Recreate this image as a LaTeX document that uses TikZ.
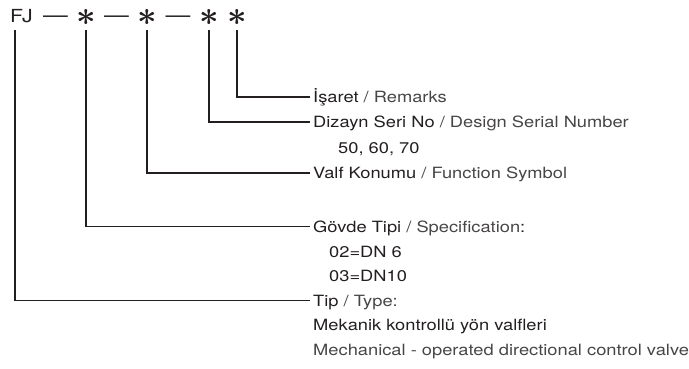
\documentclass[tikz,border=0pt]{standalone}
\usepackage{fontspec}
\setmainfont{TeX Gyre Heros}[FakeStretch=1.18]
\usetikzlibrary{positioning,calc}
\definecolor{ink}{HTML}{231F20}
\definecolor{inklight}{HTML}{474546}
\tikzset{
    % kod satiri
    codepart/.style={inner sep=0pt, anchor=base, text=ink,
                     font=\fontsize{18}{18}\selectfont},
    codedash/.style={inner sep=0pt, anchor=base, text=ink,
                     font=\fontsize{21}{21}\selectfont},
    codestar/.style={inner sep=0pt, anchor=base, text=ink,
                     font=\fontsize{10}{10}\selectfont\boldmath},
    % aciklamalar
    keytext/.style={anchor=west, inner xsep=3pt, inner ysep=0pt,
                    text height=11pt, text depth=0pt, text=ink,
                    font=\fontsize{15.5}{18}\selectfont},
    subtext/.style={keytext, inner xsep=0pt},
    leader/.style={draw=ink, line width=1.3pt}
}
\newcommand{\eng}[1]{\textcolor{inklight}{#1}}
\newcommand{\codeast}{\scalebox{3.4}{$\ast$}}

\begin{document}
\begin{tikzpicture}[x=1pt,y=-1pt]
    \useasboundingbox (0,0) rectangle (689,368);

    \node[codepart, anchor=base west] (fj) at (10,22) {FJ};
    \node[codedash] (d1) at (55.5,22) {\textemdash};
    \node[codestar] (s1) at (86,25) {\codeast};
    \node[codedash] (d2) at (116.5,22) {\textemdash};
    \node[codestar] (s2) at (147,25) {\codeast};
    \node[codedash] (d3) at (178,22) {\textemdash};
    \node[codestar] (s3) at (209,25) {\codeast};
    \node[codestar] (s4) at (237,25) {\codeast};

    \coordinate (foot) at (0,30);
    \coordinate (fjfoot) at (15,30);

    \node[keytext] (isaret) at (310,97) {İşaret \eng{/ Remarks}};
    \node[keytext] (dizayn) at (310,122) {Dizayn Seri No \eng{/ Design Serial Number}};
    \node[subtext] (seri) at (338,147.5) {50, 60, 70};
    \node[keytext] (valf) at (310,173) {Valf Konumu \eng{/ Function Symbol}};
    \node[keytext] (govde) at (310,226.5) {Gövde Tipi \eng{/ Specification}:};
    \node[subtext] (dn6) at (329,251.5) {02=DN 6};
    \node[subtext] (dn10) at (329,276) {03=DN10};
    \node[keytext] (tip) at (310,300.5) {Tip \eng{/ Type:}};
    \node[subtext] (mek) at (313,325) {Mekanik kontrollü yön valfleri};
    \node[subtext] (mech) at (313,349.5) {\eng{Mechanical - operated directional control valve}};

    \draw[leader] (s4 |- foot) |- (isaret.west);
    \draw[leader] (s3 |- foot) |- (dizayn.west);
    \draw[leader] (s2 |- foot) |- (valf.west);
    \draw[leader] (s1 |- foot) |- (govde.west);
    \draw[leader] (fjfoot) |- (tip.west);
\end{tikzpicture}
\end{document}
